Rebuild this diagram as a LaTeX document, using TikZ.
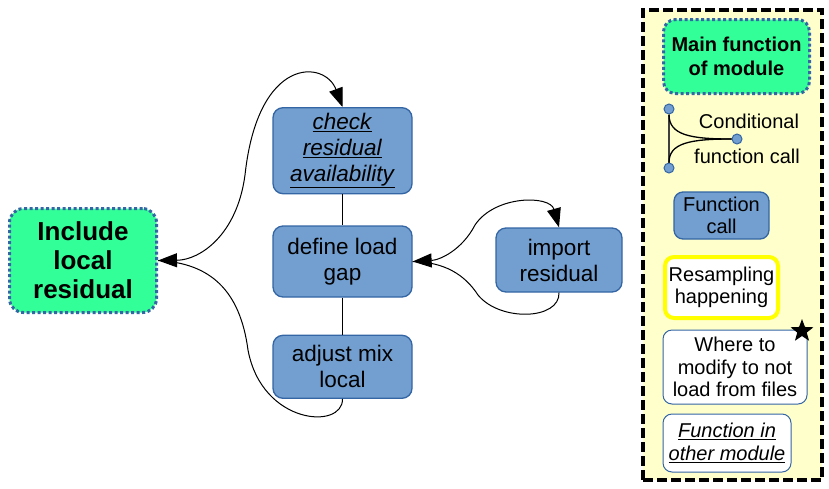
\documentclass[tikz,border=0pt]{standalone}
\usepackage{fontspec}
\setmainfont{Liberation Sans}
\usetikzlibrary{arrows.meta,positioning,shapes.geometric}
\definecolor{ModBlue}{HTML}{729FCF}
\definecolor{ModEdge}{HTML}{3465A4}
\definecolor{ModGreen}{HTML}{33FF99}
\definecolor{ModNote}{HTML}{FFFFCC}
\definecolor{ModYellow}{HTML}{FFFF00}
\newcommand{\ulit}[1]{\underline{\textit{#1}}}

\begin{document}
\begin{tikzpicture}[x=1pt,y=-1pt,
    fn/.style={draw=ModEdge,line width=1.3pt,fill=ModBlue,rounded corners=10pt,minimum width=139pt,align=center,font=\fontsize{22.5}{26}\selectfont},
    mainfn/.style={draw=ModEdge,fill=ModGreen,line width=3pt,dash pattern=on 3pt off 2.5pt,rounded corners=14pt,align=center,font=\fontsize{26}{29}\selectfont\bfseries},
    key/.style={rounded corners=9pt,align=center,font=\fontsize{20}{22.5}\selectfont},
    dot/.style={circle,draw=ModEdge,line width=1pt,fill=ModBlue,minimum size=10pt,inner sep=0pt},
    link/.style={line width=1pt},
    biarr/.style={link,{Triangle[length=19pt,width=14pt]}-{Triangle[length=19pt,width=14pt]}}
  ]
    \useasboundingbox (0,0) rectangle (829,488);
    \node[fn,minimum height=71pt] (define) at (342.5,261.5) {define load\\gap};
    \node[fn,minimum height=86pt,above=31pt of define] (check) {\ulit{check}\\\ulit{residual}\\\ulit{availability}};
    \node[fn,minimum height=63pt,below=37pt of define] (adjust) {adjust mix\\local};
    \node[fn,minimum width=126pt,minimum height=64pt] (import) at (559,260) {import\\residual};
    \node[mainfn,minimum width=147pt,minimum height=104pt] (incl) at (83,260.5) {Include\\local\\residual};
    \draw[link] (check) -- (define); \draw[link] (define) -- (adjust);
    \draw[biarr] (incl.east) .. controls (200,260) and (237,235) .. (245,175) .. controls (258,55) and (325,60) .. (check.north);
    \draw[link] (adjust.south) .. controls (343,430) and (262,425) .. (248,350) .. controls (240,290) and (210,263) .. (incl.east);
    \draw[biarr] (define.east) .. controls (440,260) and (462,250) .. (475,225) .. controls (495,195) and (550,195) .. (import.north);
    \draw[link] (import.south) .. controls (560,320) and (500,322) .. (478,295) .. controls (465,275) and (445,262) .. (define.east);
    \node[draw,line width=4pt,dash pattern=on 10pt off 4pt,fill=ModNote,minimum width=179pt,minimum height=470pt,inner sep=0pt] (legend) at (732.5,245) {};
    \node[mainfn,font=\fontsize{20}{24}\selectfont\bfseries,rounded corners=12pt,minimum width=146pt,minimum height=74pt] (mainkey) at (736.5,56.5) {Main function\\of module};
    \node[dot] (c1) at (669,109) {};
    \node[dot] (c2) at (669,168) {};
    \node[dot] (c3) at (737,139) {};
    \draw[line width=1.5pt,black!75] (c1) -- (c2);
    \draw[line width=1.3pt] (c1) .. controls (669,135) and (690,139) .. (c3);
    \draw[line width=1.3pt] (c2) .. controls (669,143) and (690,139) .. (c3);
    \node[key,anchor=base] (condtxt) at (749,128) {Conditional};
    \node[key,anchor=base] (calltxt) at (747,163) {function call};
    \node[fn,key,minimum width=95pt,minimum height=47pt] (callkey) at (721.5,215.5) {Function\\call};
    \node[key,draw=ModYellow,line width=4pt,fill=white,minimum width=113pt,minimum height=61pt] (resamp) at (721.5,287.5) {Resampling\\happening};
    \node[key,draw=ModEdge,line width=1pt,fill=white,minimum width=144pt,minimum height=74pt] (modify) at (735,367) {Where to\\modify to not\\load from files};
    \node[star,star points=5,star point ratio=2.4,fill=black,minimum size=24pt,inner sep=0pt] (starmark) at (802,331) {};
    \node[key,draw=ModEdge,line width=1pt,fill=white,minimum width=128pt,minimum height=58pt] (other) at (727,443) {\ulit{Function in}\\\ulit{other module}};
  \end{tikzpicture}
\end{document}
